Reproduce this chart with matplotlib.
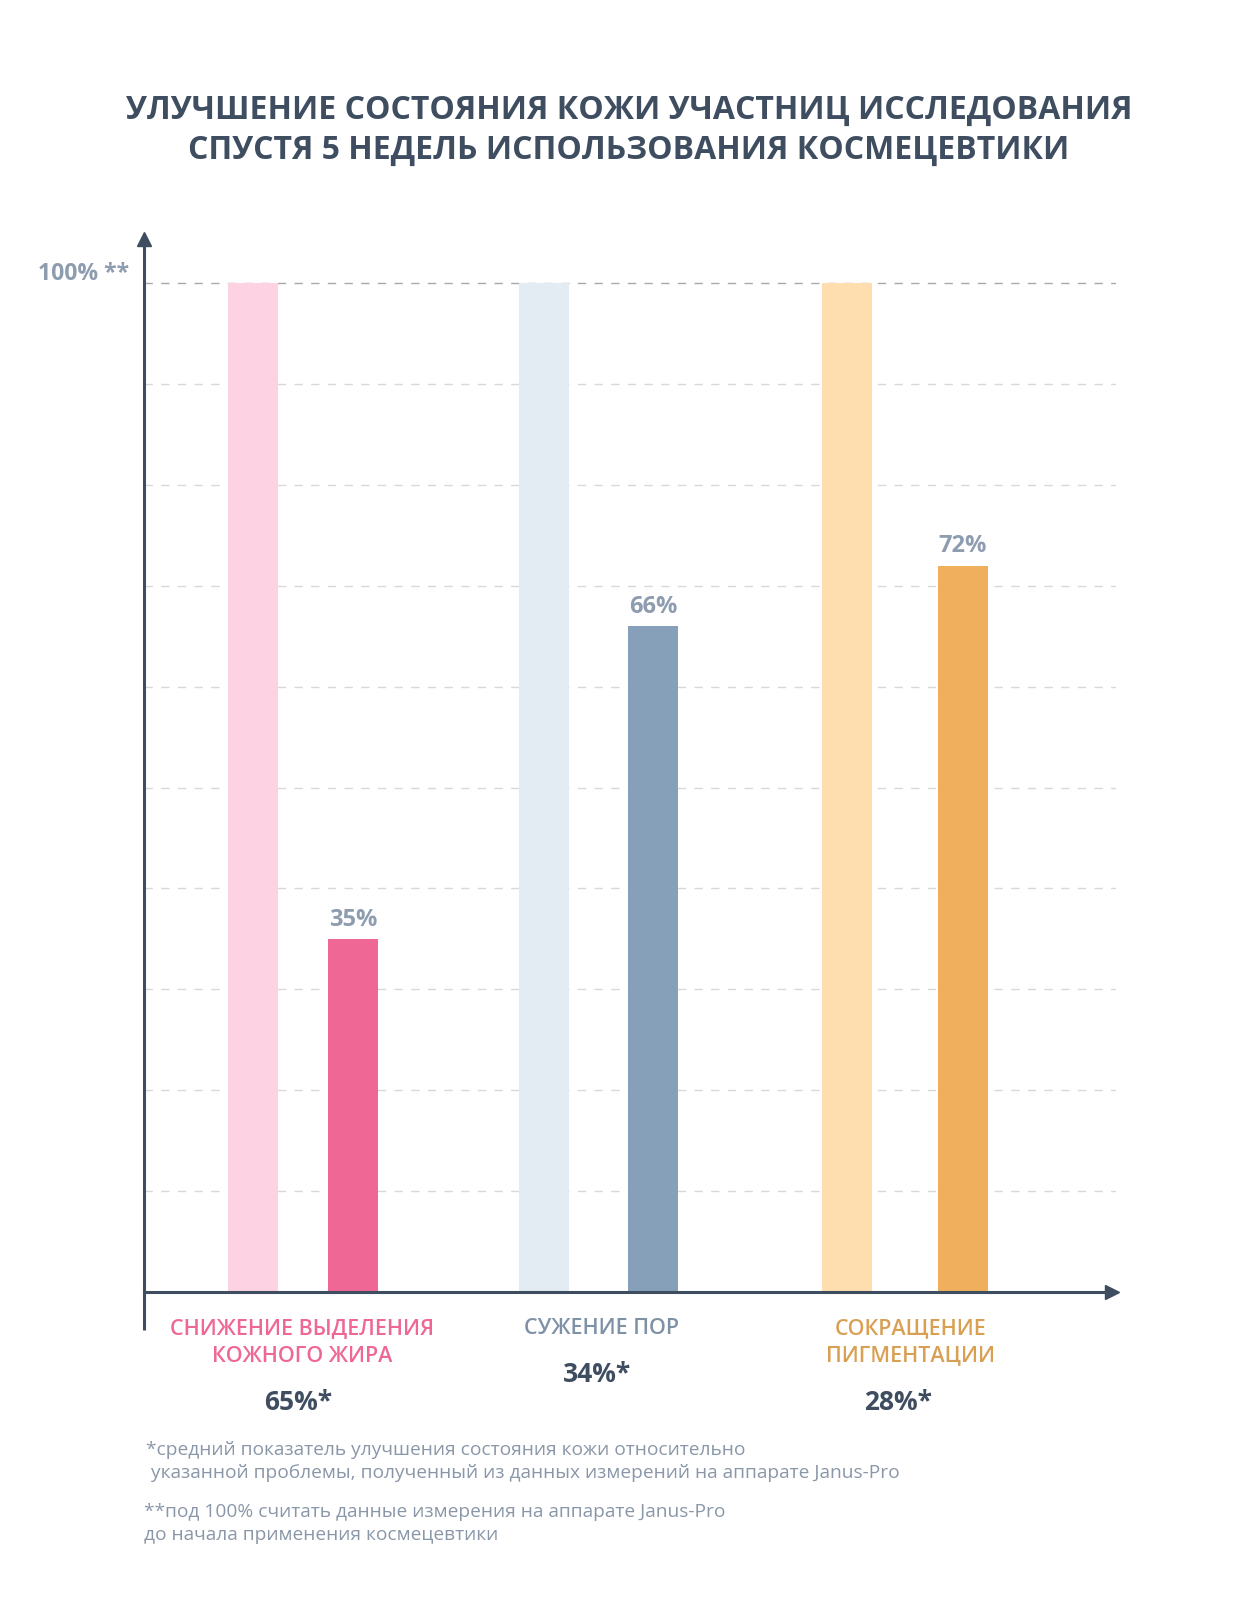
import matplotlib
matplotlib.use("Agg")
import matplotlib.pyplot as plt
import numpy as np

# ---- data ----
categories = ["СНИЖЕНИЕ ВЫДЕЛЕНИЯ\nКОЖНОГО ЖИРА", "СУЖЕНИЕ ПОР", "СОКРАЩЕНИЕ\nПИГМЕНТАЦИИ"]
baseline = [100, 100, 100]
after = [35, 66, 72]
after_labels = ["35%", "66%", "72%"]
improvement = ["65%*", "34%*", "28%*"]
title = "УЛУЧШЕНИЕ СОСТОЯНИЯ КОЖИ УЧАСТНИЦ ИССЛЕДОВАНИЯ\nСПУСТЯ 5 НЕДЕЛЬ ИСПОЛЬЗОВАНИЯ КОСМЕЦЕВТИКИ"
ytick_label = "100% **"
footnote1 = "*средний показатель улучшения состояния кожи относительно\n указанной проблемы, полученный из данных измерений на аппарате Janus-Pro"
footnote2 = "**под 100% считать данные измерения на аппарате Janus-Pro\nдо начала применения космецевтики"

# ---- style ----
light_colors = ["#FDD3E3", "#E3EBF3", "#FEDDAE"]
dark_colors = ["#EF6795", "#87A0B9", "#F0AF5C"]
cat_colors = ["#EF6795", "#7F91A7", "#D9A054"]
dark = "#3F4D60"
valc = "#8E9CAF"
footc = "#8A97A8"
FONT = ["Open Sans", "DejaVu Sans"]
plt.rcParams['font.family'] = FONT

W, H = 1242, 1602
fig = plt.figure(figsize=(W / 100, H / 100), dpi=100)

def fx(x):
    return x / W

def fy(y):
    return 1 - y / H

# axes: left 144, right 1116 ; y=0 at 1292, y=100 at 283, top arrow 233
x0, x1 = 144, 1116
y0, y100, ytop = 1292, 283, 233
ppu = (y0 - y100) / 100.0
ymax = (y0 - ytop) / ppu
ax = fig.add_axes([fx(x0), fy(y0), (x1 - x0) / W, (y0 - ytop) / H])
ax.set_ylim(0, ymax)
xpx = 300.0
ax.set_xlim(-0.53, -0.53 + (x1 - x0) / xpx)
ax.axis("off")

centers = np.array([0.0, 0.985, 2.007])
half = np.array([0.167, 0.183, 0.193])
bw = 50 / xpx

# gridlines
for g in range(10, 101, 10):
    ax.axhline(g, color="#A9A9A9" if g == 100 else "#D8D8D8", lw=1.0,
               ls=(0, (6, 6)), zorder=0)

ax.bar(centers - half, baseline, width=bw, color=light_colors, zorder=2)
ax.bar(centers + half, after, width=bw, color=dark_colors, zorder=2)

for c, h, v, lab in zip(centers, half, after, after_labels):
    ax.text(c + h, v + 0.7, lab, ha="center", va="bottom", fontsize=17,
            fontweight="bold", color=valc)

# axes arrows
xl = ax.get_xlim()
ax.plot([xl[0], xl[0]], [-(1330 - y0) / ppu, ymax - 1.0], color=dark, lw=2.2,
        clip_on=False, zorder=3, solid_capstyle="butt")
ax.plot([xl[0], xl[1] - 0.03], [0, 0], color=dark, lw=2.2, clip_on=False, zorder=3)
ax.plot([xl[0]], [ymax - 0.6], marker="^", ms=10, color=dark, clip_on=False, zorder=4)
ax.plot([xl[1] - 0.015], [0], marker=">", ms=10, color=dark, clip_on=False, zorder=4)

# texts
fig.text(fx(629), fy(110), title.split("\n")[0], ha="center", va="center",
         fontsize=23, fontweight="bold", color=dark)
fig.text(fx(629), fy(150), title.split("\n")[1], ha="center", va="center",
         fontsize=23, fontweight="bold", color=dark)
fig.text(fx(84), fy(274), ytick_label, ha="center", va="center", fontsize=16.5,
         fontweight="bold", color=valc)

cat_x = [302, 601, 911]
cat_y = [1329, 1329, 1329]
imp_x = [298, 597, 898]
imp_y = [1402, 1375, 1402]
for i, cat in enumerate(categories):
    lines = cat.split("\n")
    for j, ln in enumerate(lines):
        fig.text(fx(cat_x[i]), fy(cat_y[i] + 27 * j), ln, ha="center", va="center",
                 fontsize=15.5, color=cat_colors[i], fontweight="semibold")
    fig.text(fx(imp_x[i]), fy(imp_y[i]), improvement[i], ha="center", va="center",
             fontsize=19, fontweight="bold", color=dark)

for j, ln in enumerate(footnote1.split("\n")):
    fig.text(fx(146), fy(1450 + 23 * j), ln, ha="left", va="center", fontsize=13.8,
             color=footc)
for j, ln in enumerate(footnote2.split("\n")):
    fig.text(fx(144), fy(1512 + 23 * j), ln, ha="left", va="center", fontsize=13.8,
             color=footc)

fig.savefig("out.png", dpi=100, facecolor="white")
